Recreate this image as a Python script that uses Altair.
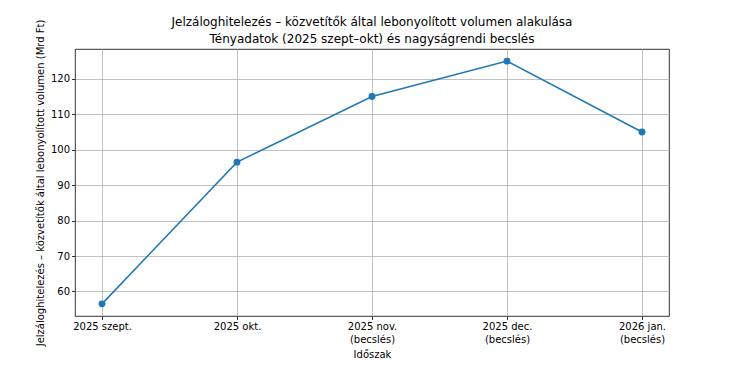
import altair as alt
import pandas as pd

periods = ["2025 szept.", "2025 okt.", "2025 nov.\n(becslés)", "2025 dec.\n(becslés)", "2026 jan.\n(becslés)"]
volumes = [56.5, 96.5, 115.0, 125.0, 105.0]
y_ticks = [60, 70, 80, 90, 100, 110, 120]

df = pd.DataFrame({"period": periods, "volume": volumes})

FONT = "DejaVu Sans"
BLUE = "#1f77b4"

chart = alt.Chart(df).mark_line(
    color=BLUE, strokeWidth=1.5,
    point=alt.OverlayMarkDef(filled=True, size=48, color=BLUE, opacity=1)
).encode(
    x=alt.X("period:N", sort=periods,
            scale=alt.Scale(type="point", padding=0.2),
            axis=alt.Axis(title="Időszak", labelAngle=0,
                          labelExpr="split(datum.label, '\\n')",
                          labelBaseline="top", titlePadding=5)),
    y=alt.Y("volume:Q",
            scale=alt.Scale(domain=[53.075, 128.425], nice=False, zero=False),
            axis=alt.Axis(title="Jelzáloghitelezés – közvetítők által lebonyolított volumen (Mrd Ft)",
                          values=y_ticks, titlePadding=5)),
).properties(
    width=594, height=267,
    background="white",
    title=alt.TitleParams(
        ["Jelzáloghitelezés – közvetítők által lebonyolított volumen alakulása",
         "Tényadatok (2025 szept–okt) és nagyságrendi becslés"],
        fontSize=12, font=FONT, fontWeight="normal", color="black",
        anchor="middle", frame="group", baseline="bottom", offset=5, lineHeight=17,
        dy=44),
    autosize=alt.AutoSizeParams(type="none"),
    padding={"left": 75, "top": 49, "right": 61, "bottom": 57},
).configure_view(
    stroke="black", strokeWidth=0.8
).configure_axis(
    labelFont=FONT, titleFont=FONT, labelFontSize=10, titleFontSize=10,
    labelColor="black", titleColor="black", titleFontWeight="normal",
    tickColor="black", tickSize=3.5, tickWidth=0.8, labelPadding=2,
    domain=False, grid=True, gridColor="#b0b0b0", gridWidth=0.8,
    labelLineHeight=13
)

chart.save("out.html", embed_options={"renderer": "svg", "actions": False})
